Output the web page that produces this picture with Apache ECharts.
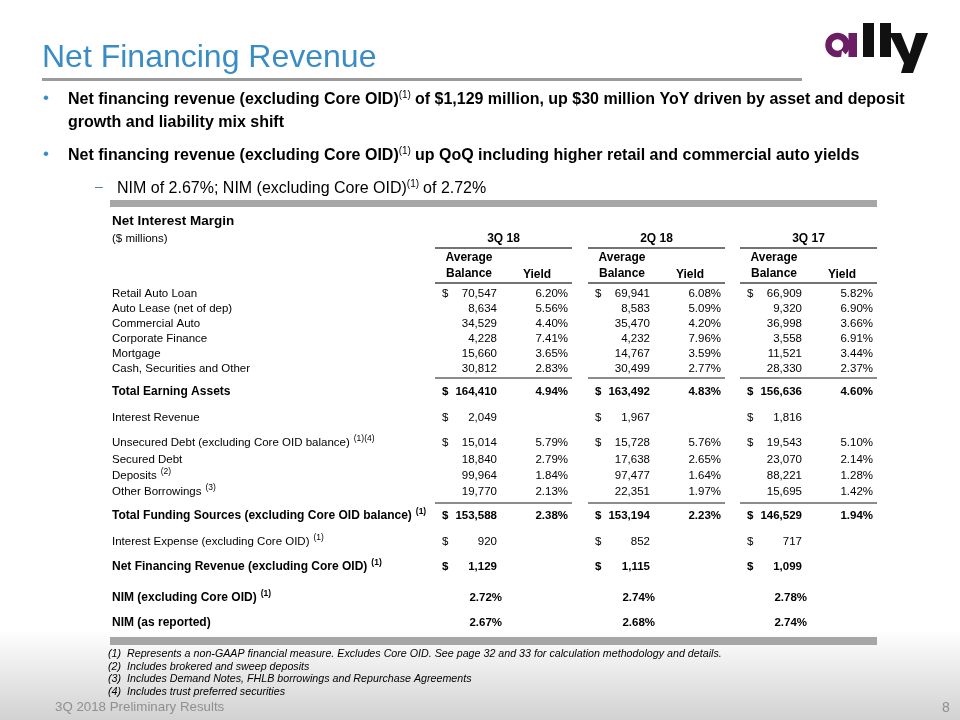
<!DOCTYPE html>
<html><head><meta charset="utf-8">
<script src="https://cdn.jsdelivr.net/npm/echarts@6/dist/echarts.min.js"></script>
<style>html,body{margin:0;padding:0;background:#fff}#main{width:960px;height:720px}</style>
</head><body><div id="main"></div>
<script>
// ---------- data ----------
const periods = ['3Q 18', '2Q 18', '3Q 17'];
const assetLabels = ['Retail Auto Loan', 'Auto Lease (net of dep)', 'Commercial Auto', 'Corporate Finance', 'Mortgage', 'Cash, Securities and Other'];
const assetBal3Q18 = [70547, 8634, 34529, 4228, 15660, 30812];
const assetYld3Q18 = [6.20, 5.56, 4.40, 7.41, 3.65, 2.83];
const assetBal2Q18 = [69941, 8583, 35470, 4232, 14767, 30499];
const assetYld2Q18 = [6.08, 5.09, 4.20, 7.96, 3.59, 2.77];
const assetBal3Q17 = [66909, 9320, 36998, 3558, 11521, 28330];
const assetYld3Q17 = [5.82, 6.90, 3.66, 6.91, 3.44, 2.37];
const totalEarningBal = [164410, 163492, 156636];
const totalEarningYld = [4.94, 4.83, 4.60];
const interestRevenue = [2049, 1967, 1816];
const fundLabels = ['Unsecured Debt (excluding Core OID balance)', 'Secured Debt', 'Deposits', 'Other Borrowings'];
const fundNotes = ['(1)(4)', '', '(2)', '(3)'];
const fundBal3Q18 = [15014, 18840, 99964, 19770];
const fundYld3Q18 = [5.79, 2.79, 1.84, 2.13];
const fundBal2Q18 = [15728, 17638, 97477, 22351];
const fundYld2Q18 = [5.76, 2.65, 1.64, 1.97];
const fundBal3Q17 = [19543, 23070, 88221, 15695];
const fundYld3Q17 = [5.10, 2.14, 1.28, 1.42];
const totalFundingBal = [153588, 153194, 146529];
const totalFundingYld = [2.38, 2.23, 1.94];
const interestExpense = [920, 852, 717];
const netFinancingRevenue = [1129, 1115, 1099];
const nimExCoreOid = [2.72, 2.74, 2.78];
const nimReported = [2.67, 2.68, 2.74];
const footnotes = [
  ['(1)', 'Represents a non-GAAP financial measure. Excludes Core OID. See page 32 and 33 for calculation methodology and details.'],
  ['(2)', 'Includes brokered and sweep deposits'],
  ['(3)', 'Includes Demand Notes, FHLB borrowings and Repurchase Agreements'],
  ['(4)', 'Includes trust preferred securities']
];

// ---------- rendering ----------
const chart = echarts.init(document.getElementById('main'), null, {renderer: 'canvas'});
const FF = '"Liberation Sans", Arial, Helvetica, sans-serif';
const mctx = document.createElement('canvas').getContext('2d');
function fnt(size, weight, style) { return (style || 'normal') + ' ' + (weight || 'normal') + ' ' + size + 'px ' + FF; }
function measure(str, f) { mctx.font = f; return mctx.measureText(str).width; }
const els = [];
// y is the vertical middle of capitals, or the baseline when o.base is set
function text(x, y, str, o) {
  o = o || {};
  const size = o.size || 12;
  const f = fnt(size, o.weight, o.style);
  const al = o.align || 'left';
  const yy = o.base ? y - 0.347 * size : y;
  const st = {text: str, font: f, fill: o.color || '#000', textAlign: al, textVerticalAlign: 'middle', align: al, verticalAlign: 'middle'};
  els.push({type: 'text', x: x, y: yy, silent: true, z: 10, style: st});
  return measure(str, f);
}
function label(x, y, str, sup, o) {
  o = o || {};
  const w = text(x, y, str, o);
  if (sup) text(x + w + (o.gap == null ? 4 : o.gap), y - (o.supRise || 4), sup, {size: o.supSize || 8.5, weight: o.weight, color: o.color});
}
function rect(x, y, w, h, fill) { els.push({type: 'rect', silent: true, z: 5, shape: {x: x, y: y, width: w, height: h}, style: {fill: fill}}); }
function line(x1, y1, x2, y2, color, lw) { els.push({type: 'line', silent: true, z: 6, shape: {x1: x1, y1: y1, x2: x2, y2: y2}, style: {stroke: color, lineWidth: lw}}); }

// background footer gradient
els.push({type: 'rect', silent: true, z: 1, shape: {x: 0, y: 630, width: 960, height: 90},
  style: {fill: new echarts.graphic.LinearGradient(0, 0, 0, 1, [{offset: 0, color: '#ffffff'}, {offset: 1, color: '#d2d2d2'}])}});

// title
const BLUE = '#3A8CC4';
text(42, 69, 'Net Financing Revenue', {size: 32, color: BLUE, base: true});
rect(42, 78, 760, 3, '#9b9b9b');

// logo (drawn with shapes)
const PURPLE = '#6B1E63';
els.push({type: 'circle', silent: true, z: 8, shape: {cx: 837.5, cy: 45, r: 9}, style: {fill: 'none', stroke: PURPLE, lineWidth: 6.5}});
rect(848.5, 33, 8.5, 24, PURPLE);
els.push({type: 'polygon', silent: true, z: 9, shape: {points: [[842, 50.5], [848.5, 57.5], [841, 58]]}, style: {fill: '#ffffff'}});
rect(863, 23, 11, 34, '#111111');
rect(880, 23, 11, 34, '#111111');
els.push({type: 'polygon', silent: true, z: 8, shape: {points: [[889, 33], [901, 33], [909.5, 54], [916, 33], [928, 33], [913, 73], [901, 73], [904, 63]]}, style: {fill: '#111111'}});

// bullets
function bulletDot(y) { text(43, y, '\u2022', {size: 17, color: BLUE}); }
bulletDot(98);
let w1 = text(68, 105, 'Net financing revenue (excluding Core OID)', {size: 16, weight: 'bold', base: true});
let s1 = text(68 + w1, 99, '(1)', {size: 10, base: true});
text(68 + w1 + s1 + 4, 105, 'of $1,129 million, up $30 million YoY driven by asset and deposit', {size: 16, weight: 'bold', base: true});
text(68, 128, 'growth and liability mix shift', {size: 16, weight: 'bold', base: true});
bulletDot(154);
w1 = text(68, 161, 'Net financing revenue (excluding Core OID)', {size: 16, weight: 'bold', base: true});
s1 = text(68 + w1, 155, '(1)', {size: 10, base: true});
text(68 + w1 + s1 + 4, 161, 'up QoQ including higher retail and commercial auto yields', {size: 16, weight: 'bold', base: true});
text(95, 187, '\u2013', {size: 14, color: '#5a7f9a'});
w1 = text(117, 194, 'NIM of 2.67%; NIM (excluding Core OID)', {size: 16, base: true});
s1 = text(117 + w1, 188, '(1)', {size: 10, base: true});
text(117 + w1 + s1 + 4, 194, 'of 2.72%', {size: 16, base: true});

// table frame
rect(110, 200, 767, 7, '#a6a6a6');
rect(110, 637, 767, 8, '#a6a6a6');
text(112, 221, 'Net Interest Margin', {size: 13.5, weight: 'bold'});
text(112, 239, '($ millions)', {size: 11.5});

const groupX = [435, 588, 740];
const GW = 137;
groupX.forEach(function (L, g) {
  text(L + GW / 2, 239, periods[g], {size: 12, weight: 'bold', align: 'center'});
  line(L, 248, L + GW, 248, '#444', 1.5);
  text(L + 34, 258, 'Average', {size: 12, weight: 'bold', align: 'center'});
  text(L + 34, 274, 'Balance', {size: 12, weight: 'bold', align: 'center'});
  text(L + 102, 275, 'Yield', {size: 12, weight: 'bold', align: 'center'});
  line(L, 283, L + GW, 283, '#444', 1.5);
  line(L, 378, L + GW, 378, '#666', 1.5);
  line(L, 503, L + GW, 503, '#666', 1.5);
});

const VS = 11.5;
function fmtNum(v) { return v.toLocaleString('en-US'); }
function fmtPct(v) { return v.toFixed(2) + '%'; }
function valueRow(y, bals, ylds, dollar, bold) {
  groupX.forEach(function (L, g) {
    const o = {size: VS, weight: bold ? 'bold' : 'normal'};
    if (dollar) text(L + 7, y, '$', o);
    if (bals) text(L + 62, y, fmtNum(bals[g]), Object.assign({align: 'right'}, o));
    if (ylds) text(L + 133, y, fmtPct(ylds[g]), Object.assign({align: 'right'}, o));
  });
}

const LS = 11.5, BS = 12;
const balCols = [assetBal3Q18, assetBal2Q18, assetBal3Q17];
const yldCols = [assetYld3Q18, assetYld2Q18, assetYld3Q17];
assetLabels.forEach(function (lab, i) {
  const y = 294 + i * 15;
  text(112, y, lab, {size: LS});
  valueRow(y, balCols.map(c => c[i]), yldCols.map(c => c[i]), i === 0, false);
});
text(112, 392, 'Total Earning Assets', {size: BS, weight: 'bold'});
valueRow(392, totalEarningBal, totalEarningYld, true, true);
text(112, 418, 'Interest Revenue', {size: LS});
valueRow(418, interestRevenue, null, true, false);

const fBalCols = [fundBal3Q18, fundBal2Q18, fundBal3Q17];
const fYldCols = [fundYld3Q18, fundYld2Q18, fundYld3Q17];
const fundY = [443, 460, 476, 492];
fundLabels.forEach(function (lab, i) {
  label(112, fundY[i], lab, fundNotes[i], {size: LS});
  valueRow(fundY[i], fBalCols.map(c => c[i]), fYldCols.map(c => c[i]), i === 0, false);
});
label(112, 516, 'Total Funding Sources (excluding Core OID balance)', '(1)', {size: BS, weight: 'bold'});
valueRow(516, totalFundingBal, totalFundingYld, true, true);
label(112, 542, 'Interest Expense (excluding Core OID)', '(1)', {size: LS});
valueRow(542, interestExpense, null, true, false);
label(112, 567, 'Net Financing Revenue (excluding Core OID)', '(1)', {size: BS, weight: 'bold'});
valueRow(567, netFinancingRevenue, null, true, true);
label(112, 598, 'NIM (excluding Core OID)', '(1)', {size: BS, weight: 'bold'});
groupX.forEach(function (L, g) { text(L + 67, 598, fmtPct(nimExCoreOid[g]), {size: VS, weight: 'bold', align: 'right'}); });
text(112, 623, 'NIM (as reported)', {size: BS, weight: 'bold'});
groupX.forEach(function (L, g) { text(L + 67, 623, fmtPct(nimReported[g]), {size: VS, weight: 'bold', align: 'right'}); });

// footnotes
footnotes.forEach(function (fn, i) {
  const y = 654 + i * 12.7;
  text(108, y, fn[0], {size: 10.7, style: 'italic'});
  text(127, y, fn[1], {size: 10.7, style: 'italic'});
});

// footer
text(55, 707, '3Q 2018 Preliminary Results', {size: 13.3, color: '#8f8f8f'});
text(946, 708, '8', {size: 14, color: '#8f8f8f', align: 'center'});

chart.setOption({
  backgroundColor: '#ffffff',
  animation: false,
  graphic: {elements: els}
});
</script>
</body></html>
